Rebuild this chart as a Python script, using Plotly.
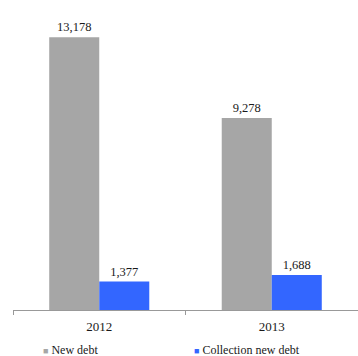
import plotly.graph_objects as go

years = ["2012", "2013"]
new_debt = [13178, 9278]
collection_new_debt = [1377, 1688]
series_names = ["New debt", "Collection new debt"]
colors = ["#a6a6a6", "#3366ff"]

fig = go.Figure()
for name, vals, col in zip(series_names, [new_debt, collection_new_debt], colors):
    fig.add_trace(go.Bar(
        x=years, y=vals, name=name, marker=dict(color=col, line=dict(width=0)),
        text=[f"{v:,}" for v in vals], textposition="outside",
        textfont=dict(family="Liberation Serif", size=12.5, color="#1a1a1a"),
        cliponaxis=False,
    ))

fig.update_layout(
    width=358, height=356,
    margin=dict(l=13, r=0, t=10, b=46),
    barmode="group", bargap=0.42, bargroupgap=0,
    plot_bgcolor="white", paper_bgcolor="white",
    showlegend=False,
    font=dict(family="Liberation Serif", color="#1a1a1a"),
    xaxis=dict(showline=True, linecolor="#999999", linewidth=1, ticks="outside",
               tickson="boundaries", ticklen=4, tickcolor="#999999",
               ticklabelstandoff=4,
               tickfont=dict(family="Liberation Serif", size=13, color="#1a1a1a")),
    yaxis=dict(visible=False, range=[0, 14500]),
)

legend_x = [41, 192]
for name, col, lx in zip(series_names, colors, legend_x):
    fig.add_annotation(
        xref="paper", yref="paper", x=(lx - 13) / 345, y=-0.133,
        xanchor="left", yanchor="middle", showarrow=False,
        text=f"<span style='color:{col};font-size:9px'>■</span> {name}",
        font=dict(family="Liberation Serif", size=12, color="#1a1a1a"),
    )

fig.write_html("out.html", config={"displayModeBar": False},
               post_script="document.body.style.margin='0';document.body.style.overflow='hidden';")
